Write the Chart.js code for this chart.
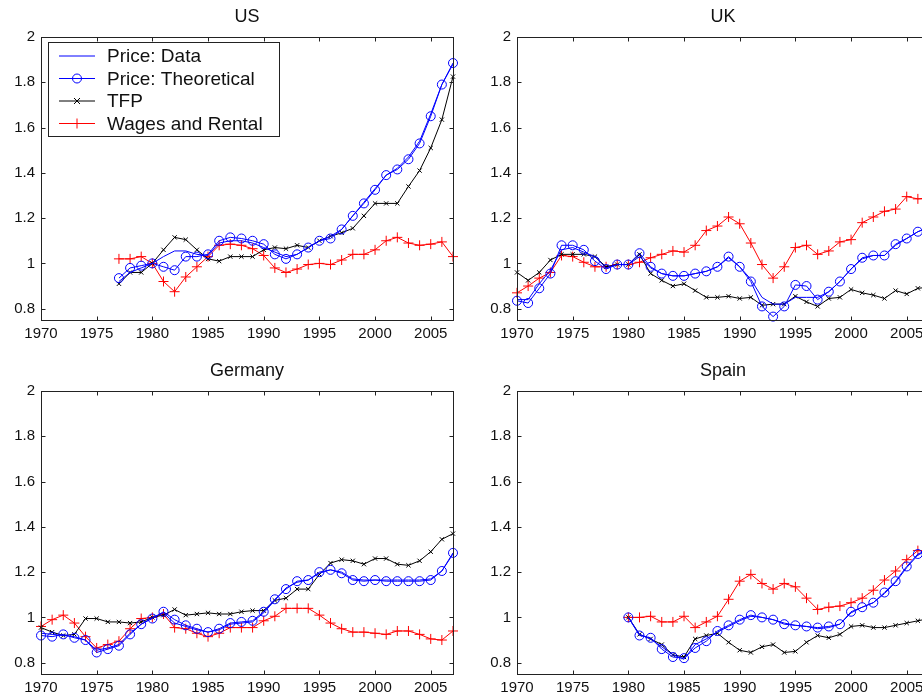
<!DOCTYPE html>
<html>
<head>
<meta charset="utf-8">
<title>Price, TFP and factor costs</title>
<script src="https://cdn.jsdelivr.net/npm/chart.js"></script>
<style>
  html, body { margin: 0; padding: 0; background: #fff; }
  body { width: 922px; height: 697px; overflow: hidden; position: relative; }
  canvas { position: absolute; }
</style>
</head>
<body>
<script>
// x axis ticks and y axis ticks (same for every panel)
var yearTicks = [1970, 1975, 1980, 1985, 1990, 1995, 2000, 2005];
var valueTicks = [0.8, 1, 1.2, 1.4, 1.6, 1.8, 2];

var seriesNames = ['Price: Data', 'Price: Theoretical', 'TFP', 'Wages and Rental'];

// US, 1977-2007
var usStart = 1977;
var usPriceData = [0.92, 0.96, 0.98, 1.00, 1.03, 1.055, 1.055, 1.04, 1.035, 1.09, 1.10, 1.10, 1.09, 1.07, 1.05, 1.03, 1.04, 1.07, 1.10, 1.12, 1.15, 1.21, 1.27, 1.33, 1.39, 1.42, 1.47, 1.54, 1.66, 1.79, 1.88];
var usPriceTheo = [0.935, 0.98, 0.99, 1.0, 0.985, 0.97, 1.03, 1.03, 1.04, 1.10, 1.115, 1.11, 1.10, 1.085, 1.04, 1.02, 1.04, 1.07, 1.10, 1.11, 1.15, 1.21, 1.265, 1.325, 1.39, 1.415, 1.46, 1.53, 1.65, 1.79, 1.885];
var usTfp = [0.91, 0.96, 0.96, 1.0, 1.06, 1.115, 1.105, 1.06, 1.02, 1.01, 1.03, 1.03, 1.03, 1.06, 1.07, 1.065, 1.08, 1.07, 1.10, 1.12, 1.135, 1.155, 1.21, 1.265, 1.265, 1.265, 1.34, 1.41, 1.51, 1.635, 1.825];
var usWages = [1.02, 1.02, 1.03, 1.0, 0.92, 0.875, 0.94, 0.985, 1.03, 1.08, 1.085, 1.08, 1.065, 1.035, 0.98, 0.96, 0.975, 0.995, 1.0, 0.995, 1.015, 1.04, 1.04, 1.06, 1.10, 1.115, 1.09, 1.08, 1.085, 1.095, 1.03];

// UK, 1970-2007
var ukStart = 1970;
var ukPriceData = [0.84, 0.84, 0.91, 0.97, 1.06, 1.07, 1.05, 1.03, 0.98, 0.995,
  0.995, 1.03, 0.98, 0.955, 0.945, 0.945, 0.955, 0.965, 0.985, 1.025,
  0.985, 0.93, 0.85, 0.82, 0.82, 0.85, 0.85, 0.85, 0.875, 0.92,
  0.975, 1.02, 1.035, 1.035, 1.08, 1.11, 1.14, 1.16];
var ukPriceTheo = [0.835, 0.825, 0.89, 0.955, 1.08, 1.08, 1.06, 1.01, 0.975, 0.995,
  0.995, 1.045, 0.985, 0.955, 0.945, 0.945, 0.955, 0.965, 0.985, 1.03,
  0.985, 0.92, 0.81, 0.765, 0.81, 0.905, 0.9, 0.84, 0.875, 0.92,
  0.975, 1.025, 1.035, 1.035, 1.085, 1.11, 1.14, 1.16];
var ukTfp = [0.96, 0.925, 0.96, 1.015, 1.04, 1.04, 1.04, 1.03, 0.985, 0.995,
  0.995, 1.04, 0.955, 0.925, 0.9, 0.91, 0.88, 0.85, 0.85, 0.855,
  0.845, 0.85, 0.815, 0.82, 0.82, 0.855, 0.83, 0.81, 0.845, 0.85,
  0.885, 0.87, 0.86, 0.845, 0.88, 0.865, 0.89, 0.895];
var ukWages = [0.87, 0.9, 0.935, 0.96, 1.035, 1.03, 1.005, 0.985, 0.985, 0.995,
  0.995, 1.005, 1.025, 1.04, 1.055, 1.05, 1.08, 1.145, 1.165, 1.205,
  1.175, 1.09, 0.995, 0.935, 0.985, 1.07, 1.08, 1.04, 1.055, 1.095,
  1.105, 1.18, 1.205, 1.23, 1.24, 1.295, 1.285, 1.29];

// Germany, 1970-2007
var deStart = 1970;
var dePriceData = [0.93, 0.925, 0.92, 0.915, 0.9, 0.855, 0.865, 0.88, 0.93, 0.97,
  1.0, 1.02, 0.975, 0.96, 0.945, 0.935, 0.945, 0.97, 0.975, 0.98,
  1.02, 1.075, 1.13, 1.155, 1.165, 1.195, 1.21, 1.2, 1.17, 1.165,
  1.165, 1.165, 1.165, 1.165, 1.165, 1.17, 1.205, 1.28];
var dePriceTheo = [0.92, 0.915, 0.925, 0.91, 0.9, 0.845, 0.86, 0.875, 0.925, 0.97,
  0.995, 1.025, 0.99, 0.965, 0.95, 0.935, 0.95, 0.975, 0.98, 0.985,
  1.025, 1.08, 1.125, 1.16, 1.165, 1.2, 1.21, 1.195, 1.165, 1.16,
  1.165, 1.16, 1.16, 1.16, 1.16, 1.165, 1.205, 1.285];
var deTfp = [0.955, 0.935, 0.92, 0.925, 0.995, 0.995, 0.98, 0.98, 0.975, 0.98,
  1.0, 1.01, 1.035, 1.01, 1.015, 1.02, 1.015, 1.015, 1.025, 1.03,
  1.03, 1.075, 1.085, 1.125, 1.125, 1.19, 1.24, 1.255, 1.25, 1.235,
  1.26, 1.26, 1.235, 1.23, 1.25, 1.29, 1.345, 1.37];
var deWages = [0.96, 0.99, 1.01, 0.975, 0.915, 0.865, 0.88, 0.895, 0.95, 0.995,
  1.0, 1.015, 0.955, 0.95, 0.93, 0.915, 0.93, 0.955, 0.955, 0.955,
  0.985, 1.005, 1.04, 1.04, 1.04, 1.01, 0.975, 0.95, 0.935, 0.935,
  0.93, 0.925, 0.94, 0.94, 0.925, 0.905, 0.9, 0.94];

// Spain, 1980-2007
var esStart = 1980;
var esPriceData = [1.0, 0.925, 0.905, 0.87, 0.835, 0.815, 0.88, 0.905, 0.935, 0.96,
  0.985, 1.005, 1.0, 0.99, 0.975, 0.965, 0.96, 0.95, 0.955, 0.97,
  1.02, 1.045, 1.065, 1.105, 1.155, 1.22, 1.275, 1.30];
var esPriceTheo = [1.0, 0.92, 0.91, 0.86, 0.825, 0.82, 0.865, 0.895, 0.94, 0.965,
  0.99, 1.01, 1.0, 0.99, 0.97, 0.965, 0.96, 0.955, 0.96, 0.97,
  1.025, 1.045, 1.065, 1.11, 1.16, 1.225, 1.28, 1.30];
var esTfp = [1.0, 0.925, 0.905, 0.88, 0.835, 0.825, 0.905, 0.92, 0.93, 0.89,
  0.855, 0.845, 0.87, 0.88, 0.845, 0.85, 0.89, 0.92, 0.91, 0.925,
  0.96, 0.965, 0.955, 0.955, 0.965, 0.975, 0.985, 0.995];
var esWages = [1.0, 1.0, 1.005, 0.98, 0.98, 1.005, 0.955, 0.98, 1.005, 1.08,
  1.16, 1.19, 1.15, 1.125, 1.15, 1.135, 1.085, 1.035, 1.045, 1.05,
  1.065, 1.085, 1.12, 1.165, 1.205, 1.255, 1.295, 1.29];

var FONT = '"Liberation Sans", Arial, sans-serif';
var BLUE = '#0000ff', RED = '#ff0000', BLACK = '#000000';

// look of each series: line colour and marker
var styles = [
  { color: BLUE, point: false, radius: 0 },
  { color: BLUE, point: 'circle', radius: 4.5 },
  { color: BLACK, point: 'crossRot', radius: 3 },
  { color: RED, point: 'cross', radius: 5 }
];

function toPoints(start, vals) {
  return vals.map(function (v, i) { return { x: start + i, y: v }; });
}

function drawMarker(ctx, style, x, y, r) {
  ctx.beginPath();
  if (style === 'circle') {
    ctx.arc(x, y, r, 0, Math.PI * 2);
  } else if (style === 'cross') {
    ctx.moveTo(x - r, y); ctx.lineTo(x + r, y);
    ctx.moveTo(x, y - r); ctx.lineTo(x, y + r);
  } else if (style === 'crossRot') {
    ctx.moveTo(x - r, y - r); ctx.lineTo(x + r, y + r);
    ctx.moveTo(x - r, y + r); ctx.lineTo(x + r, y - r);
  }
  ctx.stroke();
}

// box round the plot with inward tick marks, plus the title
var framePlugin = {
  id: 'frame',
  afterDraw: function (chart) {
    var ctx = chart.ctx, a = chart.chartArea;
    var xs = chart.scales.x, ys = chart.scales.y;
    ctx.save();
    ctx.strokeStyle = '#222';
    ctx.lineWidth = 1;
    var l = Math.round(a.left) + 0.5, r = Math.round(a.right) + 0.5;
    var t = Math.round(a.top) + 0.5, b = Math.round(a.bottom) + 0.5;
    ctx.strokeRect(l, t, r - l, b - t);
    ctx.beginPath();
    yearTicks.forEach(function (yr) {
      var px = Math.round(xs.getPixelForValue(yr)) + 0.5;
      ctx.moveTo(px, b); ctx.lineTo(px, b - 4);
      ctx.moveTo(px, t); ctx.lineTo(px, t + 4);
    });
    valueTicks.forEach(function (v) {
      var py = Math.round(ys.getPixelForValue(v)) + 0.5;
      ctx.moveTo(l, py); ctx.lineTo(l + 4, py);
      ctx.moveTo(r, py); ctx.lineTo(r - 4, py);
    });
    ctx.stroke();

    var opts = chart.options.plugins.frame || {};
    if (opts.title) {
      ctx.fillStyle = '#111';
      ctx.font = '18px ' + FONT;
      ctx.textAlign = 'center';
      ctx.textBaseline = 'middle';
      ctx.fillText(opts.title, (a.left + a.right) / 2, 17);
    }

    if (opts.legend) {
      var bx = 48.5, by = 42.5, bw = 231, bh = 94;
      ctx.fillStyle = '#fff';
      ctx.fillRect(bx, by, bw, bh);
      ctx.strokeStyle = '#222';
      ctx.strokeRect(bx, by, bw, bh);
      ctx.font = '19px ' + FONT;
      ctx.textAlign = 'left';
      ctx.textBaseline = 'middle';
      seriesNames.forEach(function (name, i) {
        var ry = 56 + i * 22.5;
        var st = styles[i];
        ctx.strokeStyle = st.color;
        ctx.lineWidth = 1;
        ctx.beginPath();
        ctx.moveTo(59, ry); ctx.lineTo(95, ry);
        ctx.stroke();
        if (st.point) drawMarker(ctx, st.point, 77, ry, st.radius);
        ctx.fillStyle = '#111';
        ctx.fillText(name, 107, ry + 1);
      });
    }
    ctx.restore();
  }
};

function makePanel(left, top, title, start, series, legend) {
  var cv = document.createElement('canvas');
  cv.width = 461; cv.height = 345;
  cv.style.left = left + 'px';
  cv.style.top = top + 'px';
  document.body.appendChild(cv);

  var datasets = series.map(function (vals, i) {
    var st = styles[i];
    return {
      label: seriesNames[i],
      data: toPoints(start, vals),
      borderColor: st.color,
      backgroundColor: 'rgba(0,0,0,0)',
      borderWidth: 1,
      tension: 0,
      pointStyle: st.point || 'circle',
      pointRadius: st.radius,
      pointBorderColor: st.color,
      pointBackgroundColor: 'rgba(0,0,0,0)',
      pointBorderWidth: 1,
      clip: false
    };
  });

  return new Chart(cv.getContext('2d'), {
    type: 'line',
    data: { datasets: datasets },
    options: {
      responsive: false,
      animation: false,
      devicePixelRatio: 1,
      events: [],
      layout: { padding: { top: 37, right: 8, left: 0, bottom: 0 } },
      plugins: {
        legend: { display: false },
        tooltip: { enabled: false },
        frame: { title: title, legend: legend }
      },
      scales: {
        x: {
          type: 'linear',
          min: 1970,
          max: 2007,
          afterBuildTicks: function (s) { s.ticks = yearTicks.map(function (v) { return { value: v }; }); },
          afterFit: function (s) { s.height = 25; },
          grid: { display: false, drawTicks: false },
          border: { display: false },
          ticks: {
            autoSkip: false, maxRotation: 0, padding: 5,
            color: '#111', font: { family: FONT, size: 15 },
            callback: function (v) { return String(v); }
          }
        },
        y: {
          min: 0.75,
          max: 2,
          afterBuildTicks: function (s) { s.ticks = valueTicks.map(function (v) { return { value: v }; }); },
          afterFit: function (s) { s.width = 41; },
          grid: { display: false, drawTicks: false },
          border: { display: false },
          ticks: {
            autoSkip: false, padding: 6,
            color: '#111', font: { family: FONT, size: 15 },
            callback: function (v) { return String(v); }
          }
        }
      }
    },
    plugins: [framePlugin]
  });
}

makePanel(0, 0, 'US', usStart, [usPriceData, usPriceTheo, usTfp, usWages], true);
makePanel(476, 0, 'UK', ukStart, [ukPriceData, ukPriceTheo, ukTfp, ukWages], false);
makePanel(0, 354, 'Germany', deStart, [dePriceData, dePriceTheo, deTfp, deWages], false);
makePanel(476, 354, 'Spain', esStart, [esPriceData, esPriceTheo, esTfp, esWages], false);
</script>
</body>
</html>
